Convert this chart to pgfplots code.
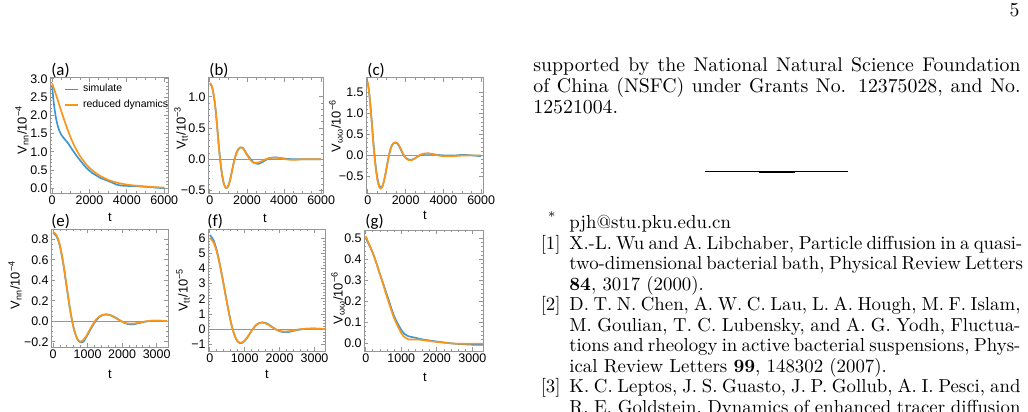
\documentclass[border=0pt]{standalone}
\usepackage{fontspec}
\usepackage{pgfplots}
\pgfplotsset{compat=1.18}
\newfontfamily\pf{Liberation Sans}
\newfontfamily\pl{Carlito}
\definecolor{mblue}{RGB}{62,150,210}
\definecolor{morange}{RGB}{250,150,25}
\definecolor{fr}{RGB}{150,150,150}
\pgfplotsset{
 mm/.style={scale only axis, anchor=south west,
  axis line style={fr, line width=0.5pt},
  tick align=inside, major tick length=2.2pt, minor tick length=1.2pt,
  tick style={fr, line width=0.4pt},
  tick label style={font=\pf\fontsize{6.3}{7}\selectfont, text=black, inner sep=1pt},
  every axis plot/.append style={line width=0.85pt, line join=round, smooth},
 },
 zl/.style={fr, line width=0.6pt, forget plot, sharp plot},
}
\newcommand{\ft}{\pf\fontsize{6.5}{7}\selectfont}
\newcommand{\fp}{\pl\fontsize{8.5}{9}\selectfont}
\begin{document}
\begin{tikzpicture}
\useasboundingbox (0,0) rectangle (519.14pt,-207.56pt);
% (a)
\begin{axis}[mm, at={(25.25pt,-97.47pt)}, width=59.59pt, height=58.08pt,
 xmin=-110, xmax=6200, ymin=-0.13, ymax=3.02,
 xtick={0,2000,4000,6000}, xticklabels={0,2000,4000,6000}, minor x tick num=3,
 ytick={0,0.5,1,1.5,2,2.5,3}, yticklabels={0.0,0.5,1.0,1.5,2.0,2.5,3.0}, minor y tick num=4,
 legend style={draw=none, fill=none, at={(0.12,0.985)}, anchor=north west,
   font=\pf\fontsize{5.3}{6}\selectfont, inner sep=0pt, row sep=-1.5pt},
 legend cell align=left,
 legend image code/.code={\draw[#1, sharp plot] (0pt,0pt) -- (6.5pt,0pt);}]
\addplot[mblue] coordinates {(0,2.82) (50,2.55) (100,2.3) (200,1.95) (300,1.72) (400,1.56) (500,1.46) (600,1.39) (700,1.33) (800,1.27) (900,1.2) (1000,1.12) (1200,0.97) (1400,0.83) (1600,0.7) (1800,0.58) (2000,0.48) (2200,0.4) (2400,0.34) (2600,0.28) (2800,0.24) (3000,0.2) (3200,0.16) (3400,0.11) (3600,0.08) (3800,0.07) (4000,0.065) (4500,0.055) (5000,0.04) (5500,0.02) (6000,0.0)};
\addlegendentry{simulate}
\addplot[morange] coordinates {(0,2.88) (250,2.5) (500,2.1) (750,1.72) (1000,1.38) (1250,1.1) (1500,0.88) (1750,0.7) (2000,0.56) (2250,0.45) (2500,0.36) (2750,0.29) (3000,0.23) (3500,0.15) (4000,0.1) (4500,0.07) (5000,0.05) (5500,0.03) (6000,0.02)};
\addlegendentry{reduced dynamics}
\end{axis}
% (b)
\begin{axis}[mm, at={(105.04pt,-97.47pt)}, width=58.08pt, height=58.08pt,
 xmin=-100, xmax=6100, ymin=-0.54, ymax=1.30,
 xtick={0,2000,4000,6000}, xticklabels={0,2000,4000,6000}, minor x tick num=3,
 ytick={-0.5,0,0.5,1}, yticklabels={−0.5,0.0,0.5,1.0}, minor y tick num=4]
\addplot[zl] coordinates {(-500,0) (7000,0)};
\addplot[mblue] coordinates {(0,1.21) (100,1.17) (200,1.04) (300,0.82) (400,0.5) (500,0.16) (600,-0.12) (700,-0.32) (800,-0.43) (900,-0.46) (1000,-0.42) (1100,-0.32) (1200,-0.18) (1300,-0.04) (1400,0.07) (1500,0.14) (1600,0.18) (1700,0.19) (1800,0.175) (1900,0.13) (2000,0.08) (2200,0.0) (2400,-0.06) (2600,-0.075) (2800,-0.05) (3000,-0.015) (3200,0.015) (3500,0.03) (3800,0.02) (4200,0.005) (4600,0.0) (5000,0.0) (6000,0.0)};
\addplot[morange] coordinates {(0,1.22) (100,1.18) (200,1.05) (300,0.82) (400,0.5) (500,0.15) (600,-0.12) (700,-0.32) (800,-0.43) (900,-0.46) (1000,-0.42) (1100,-0.32) (1200,-0.18) (1300,-0.04) (1400,0.07) (1500,0.15) (1600,0.185) (1700,0.19) (1800,0.17) (1900,0.12) (2000,0.07) (2200,-0.02) (2400,-0.06) (2600,-0.055) (2800,-0.03) (3000,0.0) (3200,0.02) (3500,0.025) (3800,0.015) (4200,-0.005) (4600,-0.01) (5000,0.0) (6000,0.0)};
\end{axis}
% (c)
\begin{axis}[mm, at={(184.83pt,-97.47pt)}, width=59.09pt, height=58.08pt,
 xmin=-100, xmax=6100, ymin=-0.9, ymax=1.85,
 xtick={0,2000,4000,6000}, xticklabels={0,2000,4000,6000}, minor x tick num=3,
 ytick={-0.5,0,0.5,1,1.5}, yticklabels={−0.5,0.0,0.5,1.0,1.5}, minor y tick num=4]
\addplot[zl] coordinates {(-500,0) (7000,0)};
\addplot[mblue] coordinates {(0,1.73) (100,1.36) (200,0.84) (300,0.27) (400,-0.2) (500,-0.54) (600,-0.72) (700,-0.77) (800,-0.7) (900,-0.52) (1000,-0.28) (1100,-0.04) (1200,0.15) (1300,0.26) (1400,0.3) (1500,0.3) (1600,0.26) (1700,0.18) (1800,0.09) (1900,0.0) (2000,-0.06) (2150,-0.1) (2300,-0.11) (2450,-0.08) (2600,-0.04) (2800,0.01) (3000,0.035) (3200,0.04) (3400,0.03) (3700,0.01) (4000,0.0) (4500,-0.005) (5000,0.01) (5500,0.0) (6000,-0.02)};
\addplot[morange] coordinates {(0,1.75) (100,1.35) (200,0.8) (300,0.22) (400,-0.25) (500,-0.58) (600,-0.76) (680,-0.8) (750,-0.77) (850,-0.62) (950,-0.4) (1050,-0.15) (1150,0.07) (1250,0.21) (1350,0.29) (1450,0.31) (1550,0.3) (1650,0.24) (1750,0.15) (1850,0.05) (1950,-0.03) (2050,-0.09) (2200,-0.12) (2350,-0.11) (2500,-0.07) (2650,-0.02) (2800,0.02) (3000,0.045) (3200,0.05) (3400,0.035) (3700,0.0) (4000,-0.02) (4500,-0.02) (5000,-0.005) (5500,0.0) (6000,0.0)};
\end{axis}
% (e)
\begin{axis}[mm, at={(25.76pt,-175.24pt)}, width=59.09pt, height=59.59pt,
 xmin=-60, xmax=3330, ymin=-0.25, ymax=0.9,
 xtick={0,1000,2000,3000}, xticklabels={0,1000,2000,3000}, minor x tick num=4,
 ytick={-0.2,0,0.2,0.4,0.6,0.8}, yticklabels={−0.2,0.0,0.2,0.4,0.6,0.8}, minor y tick num=3]
\addplot[zl] coordinates {(-500,0) (4000,0)};
\addplot[mblue] coordinates {(0,0.86) (100,0.83) (200,0.73) (300,0.55) (400,0.32) (500,0.1) (600,-0.07) (700,-0.17) (800,-0.205) (870,-0.2) (950,-0.16) (1050,-0.1) (1150,-0.04) (1250,0.01) (1350,0.045) (1450,0.063) (1550,0.068) (1650,0.062) (1750,0.048) (1850,0.028) (1950,0.007) (2050,-0.012) (2150,-0.025) (2250,-0.03) (2350,-0.028) (2450,-0.02) (2600,-0.008) (2800,0.004) (3000,0.006) (3300,0.003)};
\addplot[morange] coordinates {(0,0.87) (100,0.84) (200,0.74) (300,0.56) (400,0.33) (500,0.1) (600,-0.07) (700,-0.17) (780,-0.2) (850,-0.19) (950,-0.15) (1050,-0.09) (1150,-0.03) (1250,0.02) (1350,0.05) (1450,0.065) (1550,0.068) (1650,0.06) (1750,0.045) (1850,0.025) (1950,0.005) (2050,-0.01) (2150,-0.02) (2250,-0.022) (2350,-0.02) (2450,-0.015) (2600,-0.005) (2800,0.005) (3000,0.006) (3300,0.003)};
\end{axis}
% (f)
\begin{axis}[mm, at={(105.04pt,-177.26pt)}, width=59.09pt, height=61.61pt,
 xmin=-50, xmax=3300, ymin=-1.44, ymax=6.6,
 xtick={0,1000,2000,3000}, xticklabels={0,1000,2000,3000}, minor x tick num=4,
 ytick={-1,0,1,2,3,4,5,6}, yticklabels={−1,0,1,2,3,4,5,6}, minor y tick num=4]
\addplot[zl] coordinates {(-500,0) (4000,0)};
\addplot[mblue] coordinates {(0,6.2) (100,5.9) (200,5.2) (300,4.15) (400,2.93) (500,1.68) (600,0.52) (700,-0.34) (800,-0.82) (900,-0.93) (1000,-0.78) (1100,-0.47) (1200,-0.1) (1300,0.2) (1400,0.39) (1500,0.45) (1600,0.41) (1700,0.29) (1800,0.12) (1900,-0.03) (2000,-0.14) (2100,-0.19) (2200,-0.2) (2300,-0.17) (2400,-0.11) (2600,-0.02) (2800,0.03) (3000,0.04) (3300,0.01)};
\addplot[morange] coordinates {(0,6.0) (100,5.75) (200,5.1) (300,4.1) (400,2.9) (500,1.65) (600,0.5) (700,-0.35) (800,-0.8) (900,-0.9) (1000,-0.75) (1100,-0.45) (1200,-0.1) (1300,0.2) (1400,0.38) (1500,0.43) (1600,0.38) (1700,0.26) (1800,0.1) (1900,-0.03) (2000,-0.11) (2100,-0.15) (2200,-0.15) (2300,-0.12) (2400,-0.07) (2600,0.0) (2800,0.03) (3000,0.03) (3300,0.01)};
\end{axis}
% (g)
\begin{axis}[mm, at={(183.82pt,-177.26pt)}, width=60.1pt, height=61.1pt,
 xmin=-50, xmax=3300, ymin=-0.035, ymax=0.54,
 xtick={0,1000,2000,3000}, xticklabels={0,1000,2000,3000}, minor x tick num=4,
 ytick={0,0.1,0.2,0.3,0.4,0.5}, yticklabels={0.0,0.1,0.2,0.3,0.4,0.5}, minor y tick num=4]
\addplot[mblue] coordinates {(0,0.5) (200,0.43) (400,0.33) (600,0.23) (800,0.13) (1000,0.065) (1100,0.045) (1200,0.035) (1400,0.028) (1600,0.02) (2000,0.01) (2500,0.0) (3000,-0.005) (3300,-0.005)};
\addplot[morange] coordinates {(0,0.51) (200,0.43) (400,0.33) (600,0.22) (800,0.12) (1000,0.05) (1100,0.03) (1200,0.02) (1400,0.02) (1600,0.017) (2000,0.008) (2500,0.0) (3000,0.0) (3300,0.0)};
\end{axis}
% ---- labels in pixel coordinates
\begin{scope}[x=0.505pt, y=-0.505pt]
\node[anchor=base west, inner sep=0, font=\fp] at (51,76) {(a)};
\node[anchor=base west, inner sep=0, font=\fp] at (209,76) {(b)};
\node[anchor=base west, inner sep=0, font=\fp] at (367,76) {(c)};
\node[anchor=base west, inner sep=0, font=\fp] at (51,227) {(e)};
\node[anchor=base west, inner sep=0, font=\fp] at (207,227) {(f)};
\node[anchor=base west, inner sep=0, font=\fp] at (365,227) {(g)};
\node[font=\ft, inner sep=0] at (110,217) {t};
\node[font=\ft, inner sep=0] at (265,218) {t};
\node[font=\ft, inner sep=0] at (425,215) {t};
\node[font=\ft, inner sep=0] at (110,374) {t};
\node[font=\ft, inner sep=0] at (267,374) {t};
\node[font=\ft, inner sep=0] at (425,377) {t};
\node[font=\ft, inner sep=0, rotate=90] at (22,130) {V\textsubscript{nn}/10\textsuperscript{−4}};
\node[font=\ft, inner sep=0, rotate=90] at (181,128) {V\textsubscript{tt}/10\textsuperscript{−3}};
\node[font=\ft, inner sep=0, rotate=90] at (336,126) {V\textsubscript{ωω}/10\textsuperscript{−6}};
\node[font=\ft, inner sep=0, rotate=90] at (15,285) {V\textsubscript{nn}/10\textsuperscript{−4}};
\node[font=\ft, inner sep=0, rotate=90] at (183,290) {V\textsubscript{tt}/10\textsuperscript{−5}};
\node[font=\ft, inner sep=0, rotate=90] at (338,298) {V\textsubscript{ωω}/10\textsuperscript{−6}};
% ---- page text
\begin{scope}[every node/.style={inner sep=0, font=\fontsize{10}{12}\selectfont}]
\node[anchor=base east] at (1020,17) {5};
\node[anchor=base west] at (533,72) {\makebox[246pt][s]{supported by the National Natural Science Foundation}};
\node[anchor=base west] at (533,93) {\makebox[246pt][s]{of China (NSFC) under Grants No. 12375028, and No.}};
\node[anchor=base west] at (533,114) {12521004.};
\end{scope}
\draw[line width=0.4pt] (705,171.7) -- (848,171.7);
\draw[line width=0.6pt] (723,171.7) -- (830,171.7);
\draw[line width=0.8pt] (742,171.7) -- (813,171.7);
\draw[line width=1.1pt] (759,171.7) -- (795,171.7);
\begin{scope}[every node/.style={inner sep=0, font=\fontsize{9.5}{11.4}\selectfont}]
\node[anchor=base east] at (557,229) {\textsuperscript{*}};
\node[anchor=base west] at (569,229) {pjh@stu.pku.edu.cn};
\node[anchor=base east] at (561,249.5) {[1]};
\node[anchor=base west] at (569,249.5) {\makebox[227.8pt][s]{X.-L. Wu and A. Libchaber, Particle diffusion in a quasi-}};
\node[anchor=base west] at (569,270) {\makebox[227.8pt][s]{two-dimensional bacterial bath, Physical Review Letters}};
\node[anchor=base west] at (569,290.5) {\textbf{84}, 3017 (2000).};
\node[anchor=base east] at (561,311) {[2]};
\node[anchor=base west] at (569,311) {\makebox[227.8pt][s]{D. T. N. Chen, A. W. C. Lau, L. A. Hough, M. F. Islam,}};
\node[anchor=base west] at (569,331.5) {\makebox[227.8pt][s]{M. Goulian, T. C. Lubensky, and A. G. Yodh, Fluctua-}};
\node[anchor=base west] at (569,352) {\makebox[227.8pt][s]{tions and rheology in active bacterial suspensions, Phys-}};
\node[anchor=base west] at (569,372.5) {ical Review Letters \textbf{99}, 148302 (2007).};
\node[anchor=base east] at (561,393) {[3]};
\node[anchor=base west] at (569,393) {\makebox[227.8pt][s]{K. C. Leptos, J. S. Guasto, J. P. Gollub, A. I. Pesci, and}};
\node[anchor=base west] at (569,413.5) {\makebox[227.8pt][s]{R. E. Goldstein, Dynamics of enhanced tracer diffusion}};
\end{scope}
\end{scope}
\end{tikzpicture}
\end{document}
